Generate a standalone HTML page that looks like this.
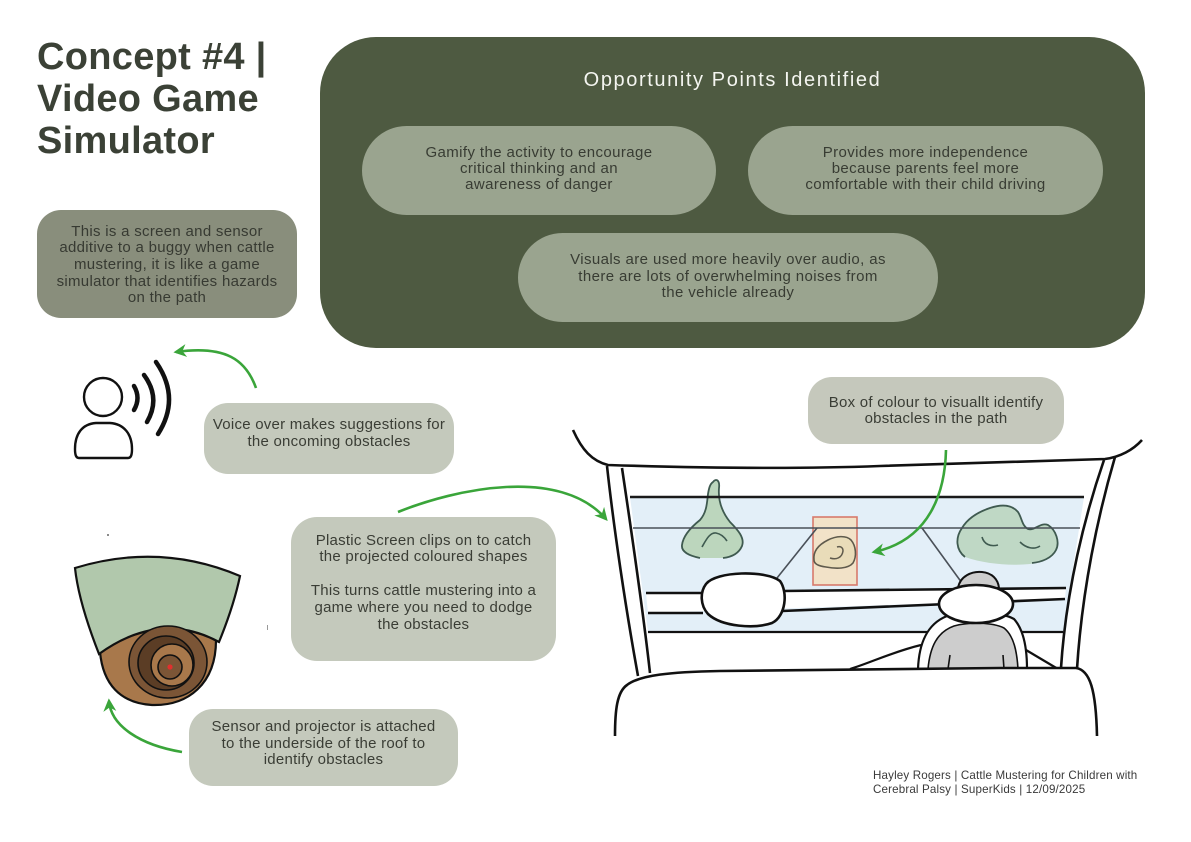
<!DOCTYPE html>
<html>
<head>
<meta charset="utf-8">
<style>
  html,body{margin:0;padding:0;background:#fff;}
  #page{position:relative;width:1191px;height:842px;overflow:hidden;background:#fff;font-family:"Liberation Sans",Arial,sans-serif;}
  .box{position:absolute;}
  .t{position:absolute;text-align:center;white-space:nowrap;}
  .lt{color:#3a3d35;font-size:15px;letter-spacing:0.25px;}
  svg{position:absolute;left:0;top:0;}
</style>
</head>
<body>
<div id="page">

  <!-- Title -->
  <div class="t" style="left:37px;top:36px;text-align:left;font-size:38px;line-height:42px;font-weight:bold;color:#3b4136;letter-spacing:0.3px;">Concept #4 |<br>Video Game<br>Simulator</div>

  <!-- Dark opportunity box -->
  <div class="box" style="left:320px;top:37px;width:825px;height:311px;border-radius:56px;background:#4e5a41;"></div>
  <div class="t" style="left:320px;top:68px;width:825px;font-size:20px;line-height:24px;letter-spacing:1.6px;color:#f4f5f0;">Opportunity Points Identified</div>

  <div class="box" style="left:362px;top:126px;width:354px;height:89px;border-radius:45px;background:#9aa48f;"></div>
  <div class="t" style="left:362px;top:145px;width:354px;font-size:15px;line-height:16px;letter-spacing:0.4px;color:#383c33;">Gamify the activity to encourage<br>critical thinking and an<br>awareness of danger</div>

  <div class="box" style="left:748px;top:126px;width:355px;height:89px;border-radius:45px;background:#9aa48f;"></div>
  <div class="t" style="left:748px;top:145px;width:355px;font-size:15px;line-height:16px;letter-spacing:0.4px;color:#383c33;">Provides more independence<br>because parents feel more<br>comfortable with their child driving</div>

  <div class="box" style="left:518px;top:233px;width:420px;height:89px;border-radius:45px;background:#9aa48f;"></div>
  <div class="t" style="left:518px;top:252px;width:420px;font-size:15px;line-height:16.5px;letter-spacing:0.4px;color:#383c33;">Visuals are used more heavily over audio, as<br>there are lots of overwhelming noises from<br>the vehicle already</div>

  <!-- Description box -->
  <div class="box" style="left:37px;top:210px;width:260px;height:108px;border-radius:24px;background:#898e7c;"></div>
  <div class="t" style="left:37px;top:223.5px;width:260px;font-size:15px;line-height:16.7px;letter-spacing:0.3px;color:#373a32;">This is a screen and sensor<br>additive to a buggy when cattle<br>mustering, it is like a game<br>simulator that identifies hazards<br>on the path</div>

  <!-- Voice over box -->
  <div class="box" style="left:204px;top:403px;width:250px;height:71px;border-radius:24px;background:#c4c9bc;"></div>
  <div class="t lt" style="left:204px;top:416px;width:250px;line-height:17px;">Voice over makes suggestions for<br>the oncoming obstacles</div>

  <!-- Plastic screen box -->
  <div class="box" style="left:291px;top:517px;width:265px;height:144px;border-radius:26px;background:#c4c9bc;"></div>
  <div class="t lt" style="left:291px;top:532.6px;width:265px;line-height:16.8px;">Plastic Screen clips on to catch<br>the projected coloured shapes<br>&nbsp;<br>This turns cattle mustering into a<br>game where you need to dodge<br>the obstacles</div>

  <!-- Sensor box -->
  <div class="box" style="left:189px;top:709px;width:269px;height:77px;border-radius:24px;background:#c4c9bc;"></div>
  <div class="t lt" style="left:189px;top:719px;width:269px;line-height:16.5px;">Sensor and projector is attached<br>to the underside of the roof to<br>identify obstacles</div>

  <!-- Box of colour -->
  <div class="box" style="left:808px;top:377px;width:256px;height:67px;border-radius:24px;background:#c5c8bc;"></div>
  <div class="t lt" style="left:808px;top:394.5px;width:256px;line-height:16px;">Box of colour to visuallt identify<br>obstacles in the path</div>

  <!-- Footer -->
  <div class="t" style="left:873px;top:769px;text-align:left;font-size:11.6px;line-height:13.5px;letter-spacing:0.15px;color:#3a3a3a;">Hayley Rogers | Cattle Mustering for Children with<br>Cerebral Palsy | SuperKids | 12/09/2025</div>

  <svg width="1191" height="842" viewBox="0 0 1191 842" xmlns="http://www.w3.org/2000/svg">
    <defs>
      <marker id="ah" viewBox="0 0 10 10" refX="8" refY="5" markerWidth="5" markerHeight="5" orient="auto-start-reverse" markerUnits="strokeWidth">
        <path d="M0,0 L10,5 L0,10 L3,5 Z" fill="#3aa53a"/>
      </marker>
    </defs>

    <!-- ===== Car drawing ===== -->
    <polygon points="630,497 1084,497 1063,632 648,632" fill="#e3eff8"/>
    <polygon points="646,593 1066,588 1065,599 648,613" fill="#ffffff"/>
    <polygon points="648,632 1063,632 1062,670 650,672" fill="#ffffff"/>

    <!-- left cloud -->
    <path d="M713,482 C716,478 720,480 719,488 C718,500 722,512 730,522 C738,530 745,538 742,546 C739,553 732,557 723,558 L700,558 C690,556 681,552 682,545 C683,537 690,528 700,520 C707,512 707,502 708,494 C709,488 710,484 713,482 Z" fill="#bcd6bd"/>
    <path d="M723,558 C732,557 739,553 742,546 C745,538 738,530 730,522 C722,512 718,500 719,488 C720,480 716,478 713,482 C710,484 709,488 708,494 C707,502 707,512 700,520 C690,528 683,537 682,545 C681,552 690,556 700,558" fill="none" stroke="#3f5a50" stroke-width="1.8"/>
    <path d="M702,547 C706,540 710,532 716,533 C722,534 725,538 727,541" fill="none" stroke="#3f5a50" stroke-width="1.6"/>

    <!-- right cloud -->
    <path d="M965,557 C956,550 955,538 962,528 C968,518 978,512 990,508 C1002,504 1012,505 1018,512 C1022,518 1022,526 1028,529 C1035,531 1040,522 1048,525 C1056,530 1060,542 1056,550 C1052,558 1042,562 1030,564 C1010,566 985,564 965,557 Z" fill="#bfd8c5"/>
    <path d="M965,557 C956,550 955,538 962,528 C968,518 978,512 990,508 C1002,504 1012,505 1018,512 C1022,518 1022,526 1028,529 C1035,531 1040,522 1048,525 C1056,530 1060,542 1056,550 C1052,558 1042,562 1032,563" fill="none" stroke="#3f5a50" stroke-width="1.8"/>
    <path d="M982,537 C984,544 990,547 998,545" fill="none" stroke="#3f5a50" stroke-width="1.6"/>
    <path d="M1020,542 C1026,548 1034,550 1040,546" fill="none" stroke="#3f5a50" stroke-width="1.6"/>

    <!-- red box -->
    <rect x="813" y="517" width="44" height="68" fill="#f3e0c2" fill-opacity="0.9" stroke="#d77a6c" stroke-width="1.6"/>
    <path d="M814,560 C813,552 818,545 828,540 C836,536 846,535 851,540 C856,546 857,556 853,563 C848,569 836,569 826,567 C818,566 814,564 814,560 Z" fill="#e9dcb9" stroke="#5f5a4c" stroke-width="1.6"/>
    <path d="M830,558 C836,560 842,558 843,551 C843,547 840,546 837,547" fill="none" stroke="#5f5a4c" stroke-width="1.5"/>

    <!-- windshield lines -->
    <line x1="630" y1="497" x2="1084" y2="497" stroke="#1a1a1a" stroke-width="2.6"/>
    <line x1="633" y1="528" x2="1080" y2="528" stroke="#4a5058" stroke-width="1.6"/>
    <line x1="817" y1="528" x2="777" y2="578" stroke="#4a5058" stroke-width="1.6"/>
    <line x1="922" y1="528" x2="962" y2="583" stroke="#4a5058" stroke-width="1.6"/>
    <path d="M646,593 L702,593 M782,591 L1066,588" stroke="#111" stroke-width="2.6" fill="none"/>
    <path d="M648,613 L703,613 M782,611 C880,607 980,603 1065,599" stroke="#111" stroke-width="2.6" fill="none"/>
    <line x1="648" y1="632" x2="1063" y2="632" stroke="#111" stroke-width="2.2"/>

    <!-- roof -->
    <path d="M573,430 C582,450 592,461 608,465 C700,468 800,469 880,466 C960,463 1040,461 1105,459 C1120,457 1133,450 1142,440" fill="none" stroke="#111" stroke-width="2.6"/>
    <!-- left pillar -->
    <path d="M607,466 C614,530 626,610 638,676" fill="none" stroke="#111" stroke-width="2.6"/>
    <path d="M622,468 C632,535 643,610 650,673" fill="none" stroke="#111" stroke-width="2.6"/>
    <!-- right pillar -->
    <path d="M1115,457 C1098,515 1082,590 1077,669" fill="none" stroke="#111" stroke-width="2.6"/>
    <path d="M1104,460 C1085,515 1066,590 1061,668" fill="none" stroke="#111" stroke-width="2.6"/>

    <!-- mirror -->
    <path d="M706,584 C716,571 766,570 780,581 C788,592 786,616 772,623 C755,629 722,627 708,614 C700,605 700,592 706,584 Z" fill="#ffffff" stroke="#111" stroke-width="2.6"/>

    <!-- driver seat -->
    <path d="M850,669 C870,663 892,652 921,645" fill="none" stroke="#111" stroke-width="2.2"/>
    <path d="M1026,650 L1058,669" fill="none" stroke="#111" stroke-width="2.2"/>
    <path d="M918,669 C919,643 927,624 947,616 C965,611 1000,611 1014,619 C1024,630 1027,650 1027,669 Z" fill="#ffffff" stroke="#111" stroke-width="2.2"/>
    <path d="M928,669 C930,647 937,632 954,626 C968,622 992,622 1004,628 C1014,636 1017,652 1018,669 Z" fill="#cdcdcd" stroke="#111" stroke-width="1.6"/>
    <path d="M948,669 L950,655 M1004,669 L1003,655" stroke="#111" stroke-width="1.6"/>
    <path d="M958,588 C960,576 972,571 982,572 C992,573 998,579 999,588 Z" fill="#cdcdcd" stroke="#111" stroke-width="2"/>
    <ellipse cx="976" cy="604" rx="37" ry="19" fill="#ffffff" stroke="#111" stroke-width="2.6"/>

    <!-- bottom dashboard -->
    <path d="M615,736 C615,710 617,692 627,685 C640,675 670,672 720,671 C800,670 900,669 1000,668 L1076,668 C1090,670 1096,690 1097,736" fill="#ffffff" stroke="#111" stroke-width="2.6"/>

    <!-- ===== Person with sound icon ===== -->
    <circle cx="103" cy="397" r="19" fill="none" stroke="#111" stroke-width="2.4"/>
    <path d="M79,458 L128,458 C131,458 132,455 132,449 C132,434 124,424 110,423 L96,423 C82,424 75,434 75,449 C75,455 76,458 79,458 Z" fill="none" stroke="#111" stroke-width="2.4"/>
    <path d="M134,386 Q141,398 134,410" fill="none" stroke="#111" stroke-width="4.5" stroke-linecap="round"/>
    <path d="M144,375 Q161,398 147,422" fill="none" stroke="#111" stroke-width="4.5" stroke-linecap="round"/>
    <path d="M156,362 Q181,398 158,434" fill="none" stroke="#111" stroke-width="4.5" stroke-linecap="round"/>

    <!-- ===== Camera / sensor ===== -->
    <path d="M100,652 Q158,612 216,640 C216,684 188,706 152,705 C120,703 103,684 100,652 Z" fill="#a8784b" stroke="#111" stroke-width="2.2"/>
    <path d="M75,568 Q160,542 240,576 C235,600 228,620 219,642 Q160,610 99,654 C88,626 78,596 75,568 Z" fill="#b1c8ac" stroke="#111" stroke-width="2.2"/>
    <ellipse cx="168" cy="662" rx="39" ry="36" fill="#7b5536" stroke="#111" stroke-width="1.6"/>
    <ellipse cx="166" cy="663" rx="28" ry="27" fill="#5b3d25" stroke="#111" stroke-width="1.6"/>
    <ellipse cx="172" cy="665" rx="21" ry="21" fill="#a8784b" stroke="#111" stroke-width="1.6"/>
    <circle cx="170" cy="667" r="12" fill="#7b5536" stroke="#111" stroke-width="1.6"/>
    <circle cx="170" cy="667" r="2.6" fill="#e0302e"/>

    <!-- stray dots -->
    <circle cx="108" cy="535" r="1" fill="#666"/>
    <rect x="267" y="625" width="1" height="5" fill="#999"/>

    <!-- ===== Green arrows ===== -->
    <path d="M256,388 C246,360 226,345 176,352" fill="none" stroke="#3aa53a" stroke-width="2.6" marker-end="url(#ah)"/>
    <path d="M398,512 C455,489 560,466 606,519" fill="none" stroke="#3aa53a" stroke-width="2.6" marker-end="url(#ah)"/>
    <path d="M946,450 C945,492 930,540 874,552" fill="none" stroke="#3aa53a" stroke-width="2.6" marker-end="url(#ah)"/>
    <path d="M182,752 C140,745 111,726 109,701" fill="none" stroke="#3aa53a" stroke-width="2.6" marker-end="url(#ah)"/>
  </svg>
</div>
</body>
</html>
